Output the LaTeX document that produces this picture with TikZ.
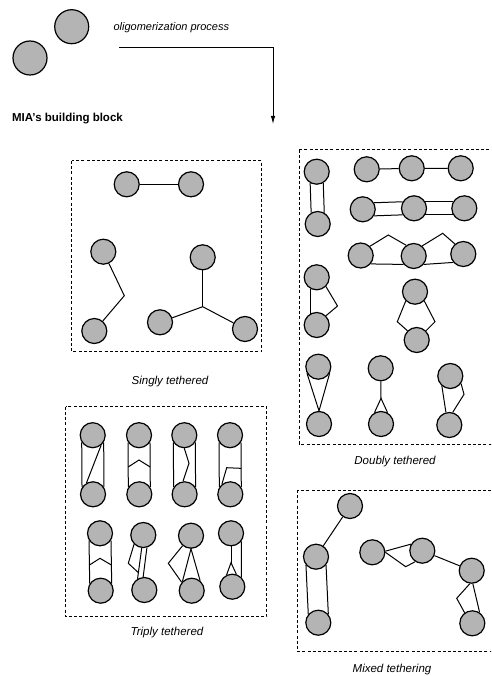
\documentclass[tikz,border=0pt]{standalone}
\usepackage{fontspec}
\setmainfont{Liberation Sans}
\usetikzlibrary{arrows.meta,calc}

\definecolor{beadgray}{RGB}{180,180,180}

\begin{document}
\begin{tikzpicture}[x=1pt, y=-1pt,
      >={Latex[length=8pt,width=4.5pt]},
      bead/.style={circle, draw, line width=1.2pt, fill=beadgray, minimum size=25pt, inner sep=0pt},
      bigbead/.style={bead, minimum size=34pt},
      tether/.style={line width=1pt},
      tetherbox/.style={draw, line width=1pt, dash pattern=on 3pt off 2.2pt},
      caption/.style={font=\fontsize{11.5}{13}\selectfont\itshape}]
    \useasboundingbox (0,0) rectangle (491,676);
    \clip (0,0) rectangle (491,676);
    % Building blocks and the oligomerization arrow
    \node[bigbead] (blockA) at (71.7,26.7) {};
    \node[bigbead] (blockB) at (30,58) {};
    \node[caption, font=\fontsize{11}{13}\selectfont\itshape, anchor=west] (proc) at (110,28) {oligomerization process};
    \node[font=\fontsize{11.5}{13}\selectfont\bfseries, anchor=west] (block) at (8.5,119) {MIA's building block};
    \coordinate (procstart) at (119,47.7);
    \coordinate (procend) at (273,124);
    \draw[tether,->] (procstart) -| (procend);
    % Frames
    \draw[tetherbox] (71.7,161) rectangle (261.7,351.7);
    \draw[tetherbox] (299,150) rectangle (498,444);
    \draw[tetherbox] (65.7,406.7) rectangle (266.7,616.7);
    \draw[tetherbox] (297.7,490) rectangle (498,651.7);
    % Singly tethered
    \node[bead] (s1) at (126.7,184.3) {};
    \node[bead] (s2) at (191,184.3) {};
    \node[bead] (s3) at (103.3,251.7) {};
    \node[bead] (s4) at (94.3,331) {};
    \node[bead] (s5) at (202.7,257.3) {};
    \node[bead] (s6) at (160,322.3) {};
    \node[bead] (s7) at (245,329) {};
    \coordinate (sj) at (202.7,306.7);
    \draw[tether] (s1) -- (s2);
    \draw[tether] (s3) -- (124.3,295.7) -- (s4);
    \draw[tether] (s5) -- (sj);
    \draw[tether] (s6) -- (sj) -- (s7);
    \node[caption] (singlylab) at (170,382) {Singly tethered};
    % Doubly tethered
    \node[bead] (d1) at (316.7,171.7) {};
    \node[bead] (d2) at (317.7,224) {};
    \node[bead] (d3) at (366.7,169.3) {};
    \node[bead] (d4) at (411.7,168.3) {};
    \node[bead] (d5) at (460.7,168.3) {};
    \node[bead] (d6) at (362.7,209.3) {};
    \node[bead] (d7) at (414,208.3) {};
    \node[bead] (d8) at (464.3,208.3) {};
    \node[bead] (d9) at (360.7,255.5) {};
    \node[bead] (d10) at (413.7,256) {};
    \node[bead] (d11) at (463.3,254) {};
    \node[bead] (d12) at (316.7,277.3) {};
    \node[bead] (d13) at (316.7,325) {};
    \node[bead] (d14) at (415,291.7) {};
    \node[bead] (d15) at (416.7,340) {};
    \node[bead] (d16) at (318.3,366.7) {};
    \node[bead] (d17) at (319,424) {};
    \node[bead] (d18) at (380.7,368.3) {};
    \node[bead] (d19) at (381,424) {};
    \node[bead] (d20) at (450.3,376) {};
    \node[bead] (d21) at (449.3,425) {};
    \coordinate (d18k) at (381,398.3);
    \draw[tether] (d1.-120) -- (d2.120);
    \draw[tether] (d1.-60) -- (d2.60);
    \draw[tether] (d3) -- (d4) -- (d5);
    \draw[tether] (d6.30) -- (d7.150);
    \draw[tether] (d6.-30) -- (d7.-150);
    \draw[tether] (d7.30) -- (d8.150);
    \draw[tether] (d7.-30) -- (d8.-150);
    \draw[tether] (d9.-40) -- (d10.-140);
    \draw[tether] (d10.-40) -- (d11.-140);
    \draw[tether] (d9.45) -- (388.3,235) -- (d10.125);
    \draw[tether] (d10.50) -- (442.7,233.3) -- (d11.130);
    \draw[tether] (d12.-120) -- (d13.120);
    \draw[tether] (d12.-45) -- (337.5,306) -- (d13.45);
    \draw[tether] (d14.-135) -- (397.3,321.7) -- (d15.135);
    \draw[tether] (d14.-45) -- (435,321.7) -- (d15.45);
    \draw[tether] (d16.-150) -- (d17.north) -- (d16.-30);
    \draw[tether] (d18) -- (d18k);
    \draw[tether] (d19.120) -- (d18k) -- (d19.60);
    \draw[tether] (d20.-130) -- (d21.105);
    \draw[tether] (d20.-35) -- (464,394.3) -- (d21.75);
    \node[caption] (doublylab) at (395,462) {Doubly tethered};
    % Triply tethered, first row
    \foreach \i/\x in {1/92.7,2/139,3/184.3,4/230} {
      \node[bead] (t\i a) at (\x,435.2) {};
      \node[bead] (t\i b) at (\x+0.3,494.3) {};
      \draw[tether] (t\i a.-147) -- (t\i b.147);
      \draw[tether] (t\i a.-33) -- (t\i b.33);
    }
    \draw[tether] (t1a.-50) -- (t1b.120);
    \draw[tether] ($(t2a.-147)!0.55!(t2b.147)$) -- (139,460) -- ($(t2a.-33)!0.55!(t2b.33)$);
    \draw[tether] (t3a.-90) -- (189,463.3) -- (t3b.97);
    \draw[tether] (t4b.130) -- (226.7,467.7) -- ($(t4a.-33)!0.58!(t4b.33)$);
    % Triply tethered, second row
    \node[bead] (u1a) at (100,533.3) {};
    \node[bead] (u1b) at (100.7,590.7) {};
    \node[bead] (u2a) at (143.3,535) {};
    \node[bead] (u2b) at (144.3,590) {};
    \node[bead] (u3a) at (191,535.7) {};
    \node[bead] (u3b) at (191.7,590.7) {};
    \node[bead] (u4a) at (231,533.3) {};
    \node[bead] (u4b) at (232.3,586.7) {};
    \coordinate (u4k) at (231,562.7);
    \draw[tether] (u1a.-147) -- (u1b.147);
    \draw[tether] (u1a.-33) -- (u1b.33);
    \draw[tether] ($(u1a.-147)!0.57!(u1b.147)$) -- (100,558.3) -- ($(u1a.-33)!0.57!(u1b.33)$);
    \draw[tether] (u2a.-97) -- (u2b.121);
    \draw[tether] (u2a.-74) -- (u2b.95);
    \draw[tether] (u2a.-135) -- (128.3,563.3) -- ($(u2a.-97)!0.8!(u2b.121)$);
    \draw[tether] (u3b.135) -- (u3a.south) -- (u3b.50);
    \draw[tether] (u3a.-130) -- (168.3,563.3) -- (u3b.140);
    \draw[tether] (u4a.-38) -- (u4b.46);
    \draw[tether] (u4a.south) -- (u4k);
    \draw[tether] (u4b.116) -- (u4k) -- (u4b.72);
    \node[caption] (triplylab) at (167,633) {Triply tethered};
    % Mixed tethering
    \node[bead] (m1) at (350,506) {};
    \node[bead] (m2) at (316,556.7) {};
    \node[bead] (m3) at (318.3,622.7) {};
    \node[bead] (m4) at (372.3,552.3) {};
    \node[bead] (m5) at (422.3,550.7) {};
    \node[bead] (m6) at (471.7,570.7) {};
    \node[bead] (m7) at (472.3,623.3) {};
    \draw[tether] (m1) -- (m2);
    \draw[tether] (m2.-140) -- (m3.140);
    \draw[tether] (m2.-40) -- (m3.40);
    \draw[tether] (m4.5) -- (m5.150);
    \draw[tether] (m4.0) -- (405.7,566.7) -- (m5.-123);
    \draw[tether] (m5) -- (m6);
    \draw[tether] (m6.-85) -- (m7.56);
    \draw[tether] (m6.-98) -- (456.7,598.3) -- (m7.126);
    \node[caption] (mixedlab) at (392,670) {Mixed tethering};
  \end{tikzpicture}
\end{document}
